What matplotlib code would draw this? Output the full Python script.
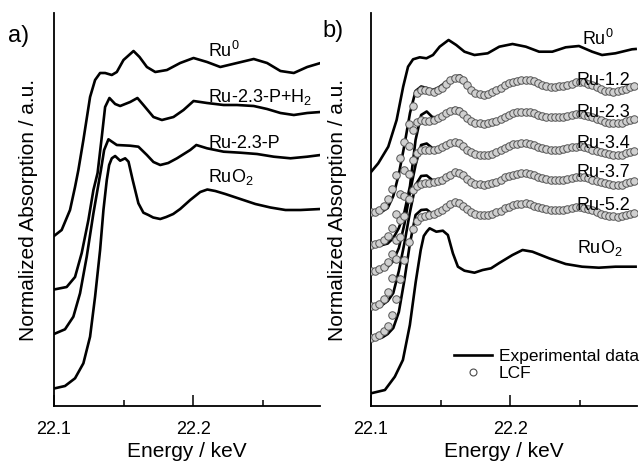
import matplotlib
matplotlib.use("Agg")
import matplotlib.pyplot as plt
from matplotlib.lines import Line2D

plt.rcParams["font.family"] = ["Liberation Sans", "DejaVu Sans"]
plt.rcParams["mathtext.fontset"] = "custom"
plt.rcParams["mathtext.rm"] = "Liberation Sans"
plt.rcParams["mathtext.default"] = "regular"

# ---------------- panel a: reference / sample spectra (offset, a.u.) ----------------
e_ru0_a = [22.1000, 22.1055, 22.1115, 22.1151, 22.1175, 22.1211, 22.1259, 22.1295,
           22.1331, 22.1367, 22.1415, 22.1451, 22.1499, 22.1571, 22.1614, 22.1667,
           22.1727, 22.1811, 22.1906, 22.2002, 22.2099, 22.2194, 22.2314, 22.2434,
           22.2530, 22.2626, 22.2722, 22.2818, 22.2914]
mu_ru0_a = [1.70, 1.76, 1.96, 2.19, 2.36, 2.66, 3.09, 3.26,
            3.33, 3.33, 3.31, 3.34, 3.46, 3.55, 3.49, 3.39,
            3.34, 3.36, 3.43, 3.48, 3.44, 3.39, 3.43, 3.47,
            3.43, 3.35, 3.33, 3.39, 3.43]

e_ph2_a = [22.1000, 22.1091, 22.1151, 22.1199, 22.1247, 22.1283, 22.1313, 22.1343,
           22.1367, 22.1398, 22.1439, 22.1475, 22.1547, 22.1599, 22.1642, 22.1714,
           22.1775, 22.1858, 22.1930, 22.2002, 22.2099, 22.2218, 22.2314, 22.2434,
           22.2530, 22.2626, 22.2722, 22.2818, 22.2914]
mu_ph2_a = [1.165, 1.19, 1.29, 1.53, 1.86, 2.16, 2.33, 2.69,
            2.99, 3.08, 3.02, 3.00, 3.04, 3.08, 3.01, 2.89,
            2.86, 2.89, 2.96, 3.05, 3.03, 3.01, 3.01, 3.00,
            2.97, 2.93, 2.91, 2.93, 2.94]

e_p_a = [22.1000, 22.1079, 22.1139, 22.1187, 22.1235, 22.1283, 22.1337, 22.1360,
         22.1391, 22.1451, 22.1547, 22.1606, 22.1667, 22.1714, 22.1763, 22.1820,
         22.1883, 22.1978, 22.2022, 22.2099, 22.2218, 22.2338, 22.2458, 22.2578,
         22.2698, 22.2818, 22.2914]
mu_p_a = [0.72, 0.767, 0.893, 1.127, 1.493, 1.927, 2.36, 2.56,
          2.667, 2.61, 2.603, 2.593, 2.51, 2.44, 2.41, 2.43,
          2.477, 2.56, 2.61, 2.577, 2.543, 2.533, 2.52, 2.493,
          2.477, 2.493, 2.51]

e_ruo2_a = [22.1000, 22.1079, 22.1151, 22.1211, 22.1259, 22.1295, 22.1331, 22.1355,
            22.1379, 22.1396, 22.1415, 22.1439, 22.1475, 22.1511, 22.1535, 22.1565,
            22.1606, 22.1642, 22.1678, 22.1712, 22.1763, 22.1806, 22.1856, 22.1906,
            22.1978, 22.2050, 22.2101, 22.2158, 22.2230, 22.2338, 22.2446, 22.2554,
            22.2662, 22.2770, 22.2914]
mu_ruo2_a = [0.175, 0.20, 0.277, 0.427, 0.693, 1.093, 1.56, 1.96,
             2.26, 2.41, 2.477, 2.50, 2.453, 2.477, 2.443, 2.26,
             2.027, 1.933, 1.91, 1.885, 1.87, 1.89, 1.92, 1.97,
             2.06, 2.14, 2.165, 2.15, 2.12, 2.07, 2.02, 1.985,
             1.96, 1.96, 1.97]

labels_a = ["Ru$^0$", "Ru-2.3-P+H$_2$", "Ru-2.3-P", "RuO$_2$"]
label_y_a = [3.49, 3.04, 2.58, 2.24]

# ---------------- panel b: references ----------------
e_ru0_b = [22.1000, 22.1052, 22.1124, 22.1184, 22.1231, 22.1266, 22.1302, 22.1350,
           22.1398, 22.1445, 22.1493, 22.1557, 22.1612, 22.1671, 22.1743, 22.1838,
           22.1921, 22.2016, 22.2112, 22.2207, 22.2302, 22.2398, 22.2493, 22.2588,
           22.2659, 22.2755, 22.2874, 22.2900]
mu_ru0_b = [2.34, 2.427, 2.593, 2.86, 3.193, 3.393, 3.467, 3.487,
            3.477, 3.51, 3.593, 3.66, 3.61, 3.543, 3.51, 3.527,
            3.593, 3.62, 3.593, 3.543, 3.543, 3.587, 3.60, 3.543,
            3.51, 3.527, 3.567, 3.57]

e_ruo2_b = [22.1000, 22.1100, 22.1171, 22.1229, 22.1279, 22.1321, 22.1357, 22.1379,
            22.1400, 22.1421, 22.1469, 22.1516, 22.1552, 22.1588, 22.1624, 22.1671,
            22.1743, 22.1802, 22.1862, 22.1921, 22.2016, 22.2088, 22.2159, 22.2279,
            22.2398, 22.2516, 22.2636, 22.2755, 22.2900]
mu_ruo2_b = [0.127, 0.16, 0.293, 0.46, 0.81, 1.24, 1.56, 1.70,
             1.743, 1.777, 1.743, 1.753, 1.71, 1.527, 1.393, 1.353,
             1.333, 1.36, 1.377, 1.43, 1.51, 1.56, 1.543, 1.477,
             1.42, 1.393, 1.383, 1.393, 1.393]

# ---------------- panel b: samples, experimental data ----------------
e_exp = [22.100, 22.104, 22.108, 22.112, 22.116, 22.120, 22.124, 22.128,
         22.132, 22.136, 22.140, 22.144, 22.148, 22.152, 22.156, 22.160,
         22.164, 22.168, 22.172, 22.176, 22.180, 22.184, 22.188, 22.192,
         22.196, 22.200, 22.204, 22.208, 22.212, 22.216, 22.220, 22.224,
         22.228, 22.232, 22.236, 22.240, 22.244, 22.248, 22.252, 22.256,
         22.260, 22.264, 22.268, 22.272, 22.276, 22.280, 22.284, 22.288]

exp_12 = [1.925, 1.93, 1.945, 1.98, 2.10, 2.32, 2.61, 2.93,
          3.15, 3.195, 3.18, 3.16, 3.18, 3.22, 3.26, 3.295,
          3.305, 3.24, 3.17, 3.13, 3.115, 3.125, 3.145, 3.185,
          3.21, 3.235, 3.255, 3.265, 3.265, 3.25, 3.23, 3.21,
          3.195, 3.19, 3.20, 3.21, 3.225, 3.24, 3.235, 3.215,
          3.185, 3.16, 3.14, 3.135, 3.14, 3.16, 3.18, 3.195]
exp_23 = [1.595, 1.60, 1.61, 1.625, 1.68, 1.78, 1.94, 2.20,
          2.66, 2.91, 2.945, 2.89, 2.885, 2.91, 2.95, 2.98,
          2.97, 2.91, 2.86, 2.83, 2.825, 2.83, 2.845, 2.865,
          2.895, 2.92, 2.935, 2.945, 2.942, 2.93, 2.91, 2.895,
          2.887, 2.887, 2.89, 2.895, 2.91, 2.92, 2.917, 2.905,
          2.885, 2.865, 2.845, 2.832, 2.827, 2.835, 2.85, 2.865]
exp_34 = [1.34, 1.35, 1.365, 1.39, 1.45, 1.58, 1.82, 2.14,
          2.41, 2.61, 2.625, 2.58, 2.575, 2.595, 2.625, 2.65,
          2.64, 2.585, 2.54, 2.52, 2.51, 2.512, 2.53, 2.555,
          2.585, 2.61, 2.622, 2.627, 2.625, 2.61, 2.595, 2.577,
          2.565, 2.56, 2.567, 2.577, 2.59, 2.598, 2.595, 2.58,
          2.56, 2.54, 2.527, 2.517, 2.51, 2.515, 2.53, 2.545]
exp_37 = [0.975, 0.99, 1.01, 1.05, 1.13, 1.35, 1.63, 1.94,
          2.21, 2.30, 2.305, 2.26, 2.255, 2.28, 2.315, 2.35,
          2.34, 2.28, 2.235, 2.22, 2.215, 2.22, 2.235, 2.255,
          2.29, 2.305, 2.315, 2.325, 2.325, 2.31, 2.295, 2.28,
          2.265, 2.26, 2.262, 2.267, 2.28, 2.29, 2.29, 2.277,
          2.26, 2.242, 2.228, 2.217, 2.21, 2.215, 2.23, 2.245]
exp_52 = [0.66, 0.67, 0.685, 0.72, 0.78, 0.94, 1.26, 1.63,
          1.91, 1.96, 1.965, 1.92, 1.92, 1.95, 2.00, 2.05,
          2.04, 1.98, 1.935, 1.915, 1.91, 1.915, 1.93, 1.95,
          1.98, 2.00, 2.015, 2.025, 2.025, 2.01, 1.99, 1.975,
          1.965, 1.96, 1.96, 1.967, 1.98, 1.99, 1.985, 1.97,
          1.95, 1.93, 1.912, 1.90, 1.893, 1.90, 1.915, 1.93]

# ---------------- panel b: samples, linear combination fit ----------------
e_lcf = [22.100, 22.103, 22.106, 22.109, 22.112, 22.115, 22.118, 22.121,
         22.124, 22.127, 22.130, 22.133, 22.136, 22.139, 22.142, 22.145,
         22.148, 22.151, 22.154, 22.157, 22.160, 22.163, 22.166, 22.169,
         22.172, 22.175, 22.178, 22.181, 22.184, 22.187, 22.190, 22.193,
         22.196, 22.199, 22.202, 22.205, 22.208, 22.211, 22.214, 22.217,
         22.220, 22.223, 22.226, 22.229, 22.232, 22.235, 22.238, 22.241,
         22.244, 22.247, 22.250, 22.253, 22.256, 22.259, 22.262, 22.265,
         22.268, 22.271, 22.274, 22.277, 22.280, 22.283, 22.286, 22.289]

lcf_12 = [1.94, 1.945, 1.965, 2.005, 2.07, 2.17, 2.31, 2.48,
          2.64, 2.82, 3.00, 3.13, 3.165, 3.16, 3.15, 3.145,
          3.16, 3.185, 3.225, 3.26, 3.28, 3.285, 3.26, 3.21,
          3.165, 3.135, 3.12, 3.115, 3.125, 3.14, 3.16, 3.185,
          3.21, 3.23, 3.245, 3.255, 3.263, 3.265, 3.26, 3.247,
          3.23, 3.215, 3.202, 3.195, 3.192, 3.197, 3.205, 3.215,
          3.225, 3.237, 3.242, 3.237, 3.225, 3.207, 3.187, 3.17,
          3.155, 3.147, 3.143, 3.147, 3.16, 3.175, 3.187, 3.197]
lcf_23 = [1.615, 1.62, 1.635, 1.66, 1.70, 1.78, 1.92, 2.12,
          2.36, 2.60, 2.76, 2.84, 2.86, 2.85, 2.85, 2.86,
          2.88, 2.905, 2.93, 2.95, 2.96, 2.955, 2.92, 2.885,
          2.855, 2.835, 2.827, 2.825, 2.827, 2.84, 2.855, 2.872,
          2.895, 2.913, 2.928, 2.937, 2.943, 2.945, 2.94, 2.927,
          2.91, 2.898, 2.89, 2.887, 2.887, 2.889, 2.892, 2.898,
          2.908, 2.916, 2.92, 2.915, 2.905, 2.89, 2.875, 2.86,
          2.845, 2.835, 2.829, 2.827, 2.835, 2.847, 2.858, 2.867]
lcf_34 = [1.35, 1.355, 1.37, 1.395, 1.44, 1.52, 1.66, 1.86,
          2.10, 2.32, 2.46, 2.53, 2.56, 2.565, 2.56, 2.565,
          2.575, 2.59, 2.61, 2.627, 2.64, 2.635, 2.60, 2.565,
          2.54, 2.522, 2.512, 2.51, 2.512, 2.522, 2.54, 2.56,
          2.585, 2.603, 2.617, 2.624, 2.627, 2.626, 2.62, 2.608,
          2.595, 2.582, 2.572, 2.564, 2.56, 2.563, 2.571, 2.58,
          2.589, 2.595, 2.598, 2.593, 2.58, 2.565, 2.55, 2.536,
          2.527, 2.52, 2.513, 2.51, 2.515, 2.526, 2.537, 2.547]
lcf_37 = [1.00, 1.005, 1.025, 1.07, 1.14, 1.28, 1.47, 1.69,
          1.90, 2.07, 2.16, 2.205, 2.225, 2.23, 2.235, 2.24,
          2.25, 2.265, 2.29, 2.315, 2.34, 2.335, 2.305, 2.27,
          2.24, 2.225, 2.217, 2.215, 2.22, 2.23, 2.245, 2.265,
          2.29, 2.302, 2.31, 2.318, 2.325, 2.326, 2.32, 2.306,
          2.295, 2.284, 2.272, 2.263, 2.26, 2.261, 2.265, 2.27,
          2.28, 2.288, 2.291, 2.288, 2.277, 2.264, 2.251, 2.238,
          2.228, 2.22, 2.214, 2.21, 2.215, 2.226, 2.237, 2.248]
lcf_52 = [0.68, 0.69, 0.71, 0.75, 0.80, 0.91, 1.07, 1.27,
          1.46, 1.64, 1.77, 1.85, 1.89, 1.90, 1.91, 1.925,
          1.94, 1.96, 1.99, 2.02, 2.04, 2.035, 2.005, 1.97,
          1.94, 1.92, 1.91, 1.91, 1.915, 1.925, 1.94, 1.955,
          1.98, 1.995, 2.008, 2.017, 2.025, 2.026, 2.018, 2.005,
          1.99, 1.978, 1.97, 1.963, 1.96, 1.96, 1.964, 1.97,
          1.98, 1.988, 1.988, 1.982, 1.97, 1.958, 1.94, 1.925,
          1.912, 1.902, 1.896, 1.893, 1.90, 1.911, 1.922, 1.932]

labels_b = ["Ru$^0$", "Ru-1.2", "Ru-2.3", "Ru-3.4", "Ru-3.7", "Ru-5.2", "RuO$_2$"]
label_y_b = [3.61, 3.21, 2.89, 2.58, 2.29, 1.96, 1.53]

x_ticks = [22.1, 22.2]
x_ticks_minor = [22.15, 22.25]
x_range = (22.1, 22.291)
y_range = (0, 3.93)

LW = 1.9


def style_axes(ax, label_x):
    ax.set_xlim(*x_range)
    ax.set_ylim(*y_range)
    ax.spines["top"].set_visible(False)
    ax.spines["right"].set_visible(False)
    ax.spines["left"].set_linewidth(1.3)
    ax.spines["bottom"].set_linewidth(1.3)
    ax.set_yticks([])
    ax.set_xticks(x_ticks)
    ax.set_xticklabels(["22.1", "22.2"])
    ax.set_xticks(x_ticks_minor, minor=True)
    ax.tick_params(axis="x", which="major", direction="in", length=8,
                   width=1.1, pad=11, labelsize=13)
    ax.tick_params(axis="x", which="minor", direction="in", length=4.5,
                   width=1.1)
    ax.set_xlabel("Energy / keV", fontsize=15, labelpad=3)
    ax.set_ylabel("Normalized Absorption / a.u.", fontsize=15)
    ax.yaxis.set_label_coords(label_x, 0.5)


fig = plt.figure(figsize=(6.4, 4.63), dpi=100)
ax_a = fig.add_axes([54 / 640, 57 / 463, 266 / 640, 393 / 463])
ax_b = fig.add_axes([371 / 640, 57 / 463, 266 / 640, 393 / 463])

# panel a
for e, mu in [(e_ru0_a, mu_ru0_a), (e_ph2_a, mu_ph2_a),
              (e_p_a, mu_p_a), (e_ruo2_a, mu_ruo2_a)]:
    ax_a.plot(e, mu, color="black", lw=LW, solid_joinstyle="round")
for text, y in zip(labels_a, label_y_a):
    ax_a.text(22.2108, y, text, fontsize=13, va="baseline", ha="left")
style_axes(ax_a, -0.062)

# panel b
ax_b.plot(e_ru0_b, mu_ru0_b, color="black", lw=LW, solid_joinstyle="round")
ax_b.plot(e_ruo2_b, mu_ruo2_b, color="black", lw=LW, solid_joinstyle="round")
for exp, lcf in [(exp_12, lcf_12), (exp_23, lcf_23), (exp_34, lcf_34),
                 (exp_37, lcf_37), (exp_52, lcf_52)]:
    ax_b.plot(e_exp, exp, color="black", lw=LW, solid_joinstyle="round", zorder=2)
    ax_b.plot(e_lcf, lcf, ls="none", marker="o", ms=5.4, mfc="#d0d0d0",
              mec="#555555", mew=0.7, zorder=3)
label_x_b = [22.2514, 22.2479, 22.2479, 22.2479, 22.2479, 22.2479, 22.2479]
for text, x, y in zip(labels_b, label_x_b, label_y_b):
    ax_b.text(x, y, text, fontsize=13, va="baseline", ha="left", zorder=5)
style_axes(ax_b, -0.09)

handles = [Line2D([], [], color="black", lw=LW),
           Line2D([], [], ls="none", marker="o", ms=5, mfc="white",
                  mec="#4a4a4a", mew=0.8)]
ax_b.legend(handles, ["Experimental data", "LCF"], loc="lower left",
            bbox_to_anchor=(0.313, 0.063), frameon=False, fontsize=12.5,
            handlelength=2.2, handletextpad=0.35, labelspacing=0.1,
            borderpad=0, borderaxespad=0)

fig.text(8 / 640, 1 - 42 / 463, "a)", fontsize=17, va="baseline")
fig.text(322 / 640, 1 - 37 / 463, "b)", fontsize=17, va="baseline")

fig.savefig("out.png", dpi=100)
